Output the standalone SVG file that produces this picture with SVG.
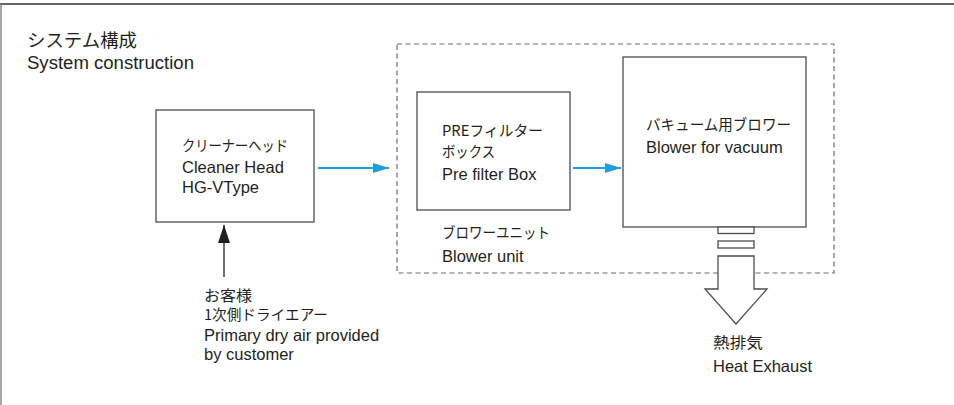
<svg xmlns="http://www.w3.org/2000/svg" width="954" height="405" viewBox="0 0 954 405">
  <defs>
    <style>
      .en { font-family: "Liberation Sans", Arial, sans-serif; font-size: 16.5px; fill: #231f20; }
      .ja { font-family: "Noto Sans CJK JP", "Noto Sans", sans-serif; font-size: 15px; fill: #231f20; }
      .box { fill: #ffffff; stroke: #4d4d4d; stroke-width: 1.3; }
      .flow { stroke: #1b9de2; stroke-width: 2.2; fill: none; }
      .unit { fill: none; stroke: #6d6d6d; stroke-width: 1.2; stroke-dasharray: 5 3.5; }
    </style>
    <marker id="blueHead" viewBox="0 0 16 10" refX="16" refY="5" markerWidth="16" markerHeight="10" markerUnits="userSpaceOnUse" orient="auto">
      <path d="M0,0 L16,5 L0,10 Z" fill="#1b9de2"/>
    </marker>
    <marker id="blackHead" viewBox="0 0 18 12" refX="18" refY="6" markerWidth="18" markerHeight="12" markerUnits="userSpaceOnUse" orient="auto">
      <path d="M0,0 L18,6 L0,12 Z" fill="#231f20"/>
    </marker>
  </defs>

  <rect width="954" height="405" fill="#ffffff"/>

  <!-- page frame -->
  <line x1="0" y1="4" x2="954" y2="4" stroke="#333333" stroke-width="1.5"/>
  <line x1="1" y1="4" x2="1" y2="405" stroke="#8a8a8a" stroke-width="1.5"/>

  <!-- heading -->
  <g id="title">
    <text class="ja" x="27" y="47" style="font-size:18px" textLength="110" lengthAdjust="spacingAndGlyphs">システム構成</text>
    <text class="en" x="27" y="69" style="font-size:17.5px" textLength="167" lengthAdjust="spacingAndGlyphs">System construction</text>
  </g>

  <!-- blower unit boundary -->
  <g id="blower-unit">
    <rect class="unit" x="397" y="44" width="437" height="229"/>
    <text class="ja" x="442" y="238" textLength="108" lengthAdjust="spacingAndGlyphs">ブロワーユニット</text>
    <text class="en" x="442" y="262">Blower unit</text>
  </g>

  <g id="connectors">
    <line class="flow" x1="318" y1="168" x2="389" y2="168" marker-end="url(#blueHead)"/>
    <line class="flow" x1="573" y1="168" x2="621" y2="168" marker-end="url(#blueHead)"/>
    <line x1="224" y1="277" x2="224" y2="225" stroke="#231f20" stroke-width="1.3" marker-end="url(#blackHead)"/>
  </g>

  <g id="cleaner-head">
    <rect class="box" x="156" y="110" width="158" height="112"/>
    <text class="ja" x="182" y="151" textLength="106" lengthAdjust="spacingAndGlyphs">クリーナーヘッド</text>
    <text class="en" x="182" y="173">Cleaner Head</text>
    <text class="en" x="182" y="193">HG-VType</text>
  </g>

  <g id="pre-filter-box">
    <rect class="box" x="417" y="92" width="153" height="118"/>
    <text class="ja" x="442" y="136" textLength="101" lengthAdjust="spacingAndGlyphs">PREフィルター</text>
    <text class="ja" x="442" y="157" textLength="53" lengthAdjust="spacingAndGlyphs">ボックス</text>
    <text class="en" x="442" y="180">Pre filter Box</text>
  </g>

  <g id="vacuum-blower">
    <rect class="box" x="623" y="57" width="183" height="170"/>
    <text class="ja" x="646" y="130" textLength="145" lengthAdjust="spacingAndGlyphs">バキューム用ブロワー</text>
    <text class="en" x="646" y="153">Blower for vacuum</text>
  </g>

  <!-- exhaust outlet and heat exhaust arrow -->
  <g id="heat-exhaust">
    <rect class="box" x="718" y="227" width="36" height="6.5"/>
    <rect class="box" x="718" y="241" width="36" height="7"/>
    <path class="box" d="M718,256 L754,256 L754,289 L767,289 L736,324 L705,289 L718,289 Z"/>
    <text class="ja" x="713" y="348" textLength="50" lengthAdjust="spacingAndGlyphs">熱排気</text>
    <text class="en" x="713" y="372">Heat Exhaust</text>
  </g>

  <g id="dry-air-supply">
    <text class="ja" x="204" y="301" style="font-size:14.5px" textLength="48" lengthAdjust="spacingAndGlyphs">お客様</text>
    <text class="ja" x="204" y="320" style="font-size:14.5px" textLength="124" lengthAdjust="spacingAndGlyphs">1次側ドライエアー</text>
    <text class="en" x="204" y="341">Primary dry air provided</text>
    <text class="en" x="204" y="360">by customer</text>
  </g>
</svg>
